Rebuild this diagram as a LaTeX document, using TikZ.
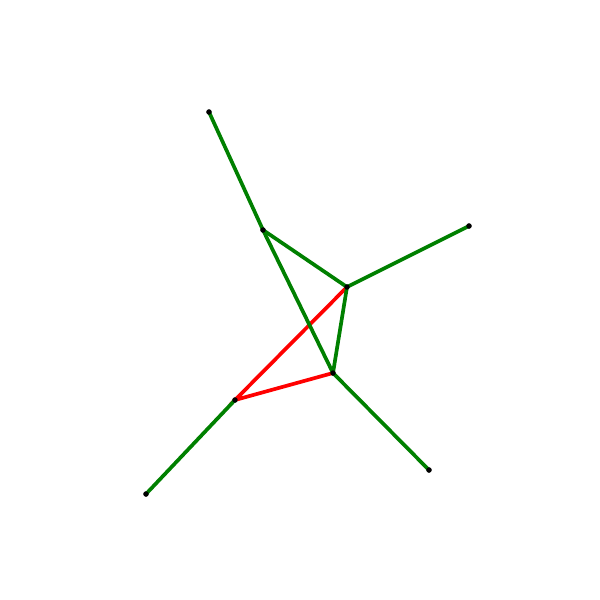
\documentclass[tikz,border=0pt]{standalone}
\begin{document}
\begin{tikzpicture}[x=0.02cm,y=-0.02cm,
  gedge/.style={draw={rgb,255:red,0;green,128;blue,0},line width=2.1pt},
  redge/.style={draw=red,line width=2.1pt},
  pt/.style={circle,fill=black,inner sep=0pt,minimum size=0.1cm}]
\useasboundingbox (0,0) rectangle (600,600);
\node[pt] (A) at (209,112) {};
\node[pt] (B) at (263,230) {};
\node[pt] (C) at (469,226) {};
\node[pt] (D) at (347,287) {};
\node[pt] (E) at (333,373) {};
\node[pt] (F) at (235,400) {};
\node[pt] (G) at (146,494) {};
\node[pt] (H) at (429,470) {};
\draw[redge] (D.center) -- (F.center) -- (E.center);
\draw[gedge] (A.center) -- (B.center) -- (E.center);
\draw[gedge] (B.center) -- (D.center) -- (C.center);
\draw[gedge] (D.center) -- (E.center) -- (H.center);
\draw[gedge] (F.center) -- (G.center);
\foreach \n in {A,B,C,D,E,F,G,H} \fill (\n) circle (0.055cm);
\end{tikzpicture}
\end{document}
